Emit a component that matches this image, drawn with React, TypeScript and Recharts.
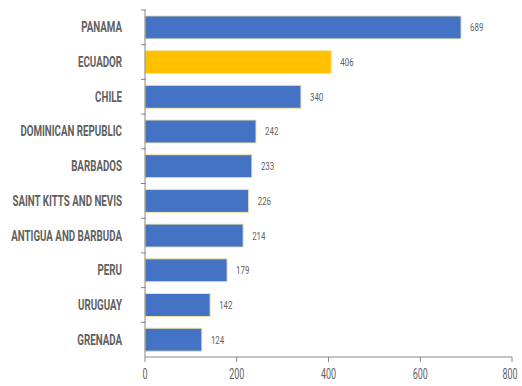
import { BarChart, Bar, XAxis, YAxis, Cell, LabelList } from "recharts";

const countries = [
  "PANAMA",
  "ECUADOR",
  "CHILE",
  "DOMINICAN REPUBLIC",
  "BARBADOS",
  "SAINT KITTS AND NEVIS",
  "ANTIGUA AND BARBUDA",
  "PERU",
  "URUGUAY",
  "GRENADA",
];
const values = [689, 406, 340, 242, 233, 226, 214, 179, 142, 124];
const xTicks = [0, 200, 400, 600, 800];
const highlight = "ECUADOR";

const data = countries.map((name, i) => ({ name, value: values[i] }));

const WIDTH = 522;
const HEIGHT = 386;
const TOP = 10;
const X_AXIS_H = 29;
const FONT = "Roboto, 'DejaVu Sans', sans-serif";
const GREY = "#5f5f5f";

const bandSize = (HEIGHT - TOP - X_AXIS_H) / countries.length;

// category tick: condensed label plus a short mark at the band boundary
function CountryTick(props: any) {
  const { x, y, payload } = props;
  const top = y - bandSize / 2;
  return (
    <g>
      <line x1={x + 4} x2={x + 9} y1={top} y2={top} stroke="#888" />
      <text
        transform={`translate(${x - 15}, ${y + 5}) scale(0.63, 1)`}
        textAnchor="end"
        fill={GREY}
        fontSize={15.5}
        fontWeight="bold"
        fontFamily={FONT}
      >
        {payload.value}
      </text>
    </g>
  );
}

function NumberTick(props: any) {
  const { x, y, payload } = props;
  return (
    <text
      transform={`translate(${x}, ${y + 15}) scale(0.6, 1)`}
      textAnchor="middle"
      fill={GREY}
      fontSize={15}
      fontFamily={FONT}
    >
      {payload.value}
    </text>
  );
}

function ValueLabel(props: any) {
  const { x, y, width, height, value } = props;
  return (
    <text
      transform={`translate(${x + width + 9}, ${y + height / 2 + 4}) scale(0.72, 1)`}
      fill={GREY}
      fontSize={11}
      fontFamily={FONT}
    >
      {value}
    </text>
  );
}

export default function App() {
  return (
    <div
      style={{
        position: "absolute",
        left: 0,
        top: 0,
        background: "#fff",
        width: WIDTH,
        height: HEIGHT,
      }}
    >
      <BarChart
        width={WIDTH}
        height={HEIGHT}
        data={data}
        layout="vertical"
        margin={{ top: TOP, right: 10, bottom: 0, left: 0 }}
        barCategoryGap="17%"
        style={{ overflow: "visible" }}
      >
        <XAxis
          type="number"
          domain={[0, 800]}
          ticks={xTicks}
          height={X_AXIS_H}
          stroke="#888"
          tickSize={5}
          tick={<NumberTick />}
        />
        <YAxis
          type="category"
          dataKey="name"
          width={145}
          stroke="#888"
          tickLine={false}
          tick={<CountryTick />}
          interval={0}
        />
        <Bar
          dataKey="value"
          stroke="#F3E6A6"
          strokeWidth={1}
          isAnimationActive={false}
        >
          {data.map((d) => (
            <Cell key={d.name} fill={d.name === highlight ? "#FFC000" : "#4472C4"} />
          ))}
          <LabelList dataKey="value" content={<ValueLabel />} />
        </Bar>
      </BarChart>
    </div>
  );
}
